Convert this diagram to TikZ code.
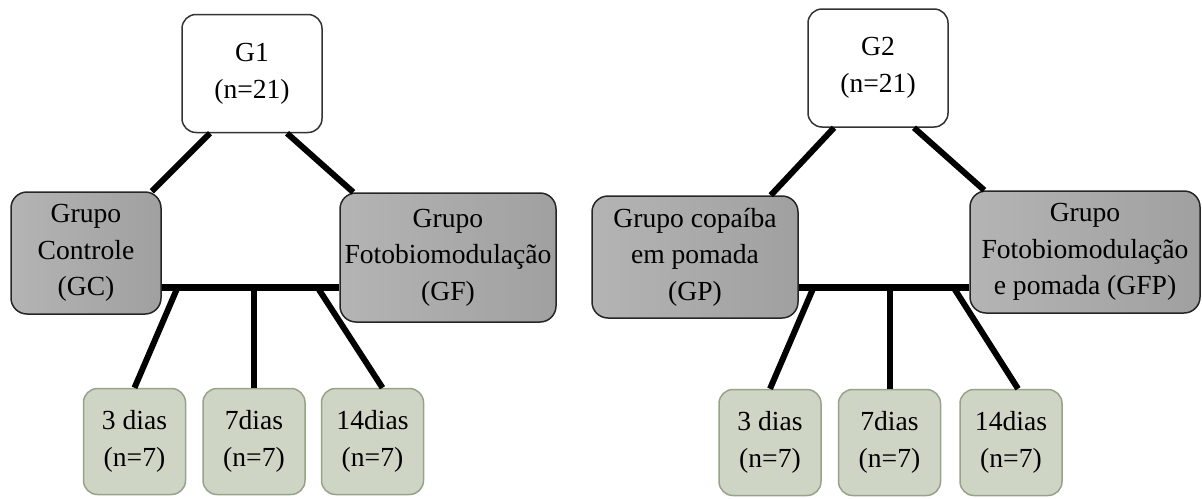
\documentclass[tikz,border=0pt]{standalone}
\usepackage{fontspec}
\setmainfont{Liberation Serif}
\usepackage{xcolor}
\usepackage{tikz}

\definecolor{grpleft}{RGB}{180,180,180}
\definecolor{grpright}{RGB}{160,160,160}
\definecolor{dayfill}{RGB}{206,213,197}
\definecolor{dayline}{RGB}{150,163,137}

\begin{document}
\begin{tikzpicture}[
    x=0.5pt, y=-0.5pt,
    font=\fontsize{13.8pt}{18.3pt}\selectfont,
    top/.style={rectangle, draw=black!80, fill=white, line width=0.75pt, minimum width=70pt, minimum height=59pt, text centered, rounded corners=7pt, align=center, inner sep=1pt},
    grp/.style={rectangle, draw=black!85, left color=grpleft, right color=grpright, line width=0.75pt, minimum height=61pt, text centered, rounded corners=8pt, align=center, inner sep=1pt},
    day/.style={rectangle, draw=dayline, fill=dayfill, line width=0.75pt, minimum width=51pt, minimum height=53pt, text centered, rounded corners=7pt, align=center, inner sep=1pt},
    link/.style={line width=3pt, color=black},
    bar/.style={line width=3.5pt, color=black}
]
\useasboundingbox (0,0) rectangle (1202,498);

% G1 block
\node[top] (g1) at (252,73.5) {G1\\(n=21)};
\node[grp, minimum width=75pt] (gc) at (86,253) {Grupo\\Controle\\(GC)};
\node[grp, minimum width=108pt, minimum height=64.5pt] (gf) at (448,257.5) {Grupo\\Fotobiomodulação\\(GF)};

\node[day] (a3) at (134.5,441.5) {3 dias\\(n=7)};
\node[day] (a7) at (254,441.5) {7dias\\(n=7)};
\node[day] (a14) at (372.5,441.5) {14dias\\(n=7)};

\coordinate (abarL) at ([yshift=-17pt]gc.east);
\coordinate (abarR) at (abarL -| gf.west);

\draw[link] ([xshift=-21pt]g1.south) -- ([xshift=-5pt]gc.north east);
\draw[link] ([xshift=17.5pt]g1.south) -- ([xshift=7pt]gf.north west);
\draw[bar] (abarL) -- (abarR);
\draw[link] ([xshift=8pt]abarL) -- (a3.north);
\draw[link] (a7.north |- abarL) -- (a7.north);
\draw[link] ([xshift=-11pt]abarR) -- ([xshift=5pt]a14.north);

% G2 block
\node[top] (g2) at (878,68) {G2\\(n=21)};
\node[grp, minimum width=103pt] (gp) at (695,257) {Grupo copaíba\\em pomada\\(GP)};
\node[grp, minimum width=115pt] (gfp) at (1085,252) {Grupo\\Fotobiomodulação\\e pomada (GFP)};

\node[day] (b3) at (770,442.5) {3 dias\\(n=7)};
\node[day] (b7) at (889.5,442.5) {7dias\\(n=7)};
\node[day] (b14) at (1011,442.5) {14dias\\(n=7)};

\coordinate (bbarL) at ([yshift=-15pt]gp.east);
\coordinate (bbarR) at (bbarL -| gfp.west);

\draw[link] ([xshift=-22pt]g2.south) -- ([xshift=-14pt]gp.north east);
\draw[link] ([xshift=18pt]g2.south) -- ([xshift=7.5pt]gfp.north west);
\draw[bar] (bbarL) -- (bbarR);
\draw[link] ([xshift=7.5pt]bbarL) -- (b3.north);
\draw[link] (b7.north |- bbarL) -- (b7.north);
\draw[link] ([xshift=-8pt]bbarR) -- ([xshift=3.5pt]b14.north);

\end{tikzpicture}
\end{document}
